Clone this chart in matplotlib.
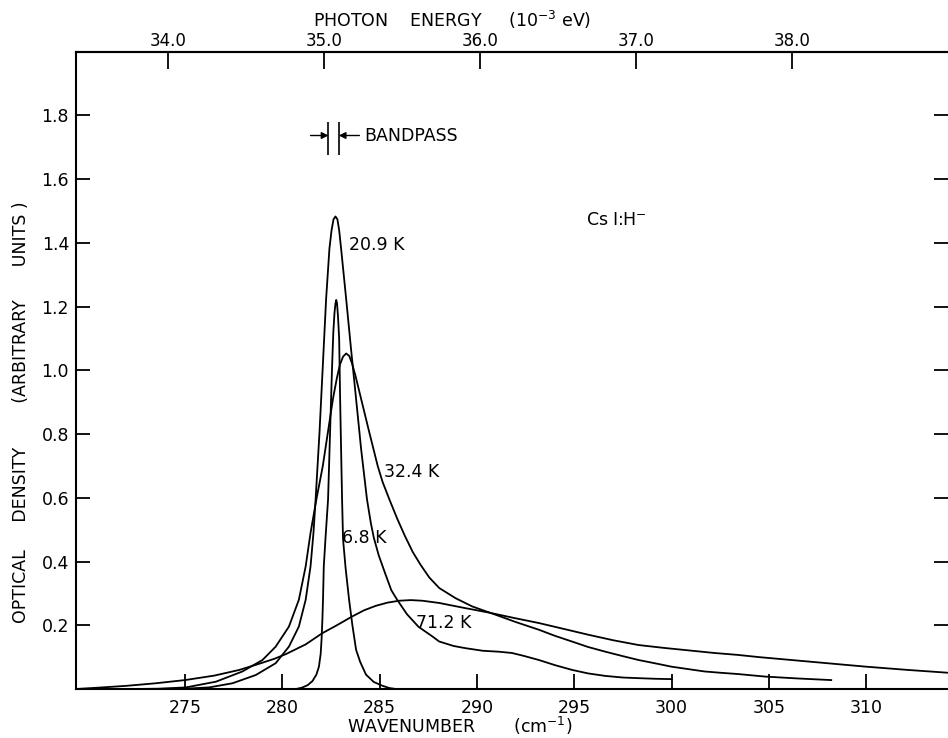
import matplotlib
matplotlib.use('Agg')
import matplotlib.pyplot as plt

# CsI:H- local mode absorption at several temperatures
wn_6_8 = [280.7, 281.0, 281.3, 281.55, 281.75, 281.88, 281.97, 282.02, 282.06, 282.09,
          282.13, 282.22, 282.35, 282.45, 282.55, 282.62, 282.68, 282.73, 282.77, 282.81,
          282.86, 282.92, 282.97, 283.02, 283.07, 283.12, 283.25, 283.43, 283.6, 283.79,
          284.0, 284.3, 284.7, 285.15, 285.5, 285.84]
od_6_8 = [0.0, 0.004, 0.012, 0.025, 0.045, 0.07, 0.11, 0.16, 0.22, 0.28,
          0.385, 0.475, 0.595, 0.8, 1.0, 1.12, 1.18, 1.21, 1.221, 1.21,
          1.17, 1.1, 0.91, 0.75, 0.595, 0.47, 0.38, 0.28, 0.2, 0.123,
          0.085, 0.045, 0.022, 0.01, 0.003, 0.0]

wn_20_9 = [273.0, 275.0, 276.24, 277.44, 278.64, 279.66, 280.34, 280.85, 281.2, 281.45,
           281.6, 281.71, 281.91, 282.08, 282.25, 282.42, 282.53, 282.63, 282.73, 282.83,
           282.92, 283.02, 283.28, 283.53, 283.79, 284.05, 284.35, 284.55, 284.7, 284.95,
           285.3, 285.6, 285.9, 286.4, 287.0, 287.71, 288.06, 288.8, 289.42, 290.3,
           291.13, 291.8, 292.4, 293.18, 294.0, 294.88, 295.7, 296.6, 297.5, 298.3,
           299.2, 300.0]
od_20_9 = [0.0, 0.001, 0.005, 0.018, 0.044, 0.081, 0.133, 0.196, 0.28, 0.385,
           0.49, 0.595, 0.805, 1.014, 1.224, 1.382, 1.44, 1.474, 1.483, 1.474,
           1.44, 1.382, 1.224, 1.067, 0.91, 0.752, 0.595, 0.52, 0.475, 0.42,
           0.36, 0.31, 0.28, 0.235, 0.195, 0.165, 0.149, 0.135, 0.128, 0.12,
           0.117, 0.113, 0.104, 0.091, 0.075, 0.06, 0.049, 0.041, 0.036, 0.034,
           0.032, 0.031]

wn_32_4 = [272.5, 273.7, 275.05, 276.59, 277.95, 278.98, 279.66, 280.34, 280.85, 281.2,
           281.45, 281.75, 282.08, 282.34, 282.6, 282.8, 282.96, 283.12, 283.28, 283.44,
           283.58, 283.75, 284.05, 284.47, 284.9, 285.15, 285.5, 285.9, 286.3, 286.7,
           287.1, 287.55, 288.06, 288.9, 289.76, 290.96, 292.0, 293.18, 294.0, 294.88,
           295.7, 296.6, 297.5, 298.3, 299.2, 300.0, 300.9, 301.7, 302.5, 303.4,
           304.8, 306.5, 308.2]
od_32_4 = [0.0, 0.001, 0.005, 0.023, 0.055, 0.091, 0.133, 0.196, 0.28, 0.385,
           0.49, 0.595, 0.7, 0.805, 0.91, 0.975, 1.018, 1.043, 1.053, 1.045,
           1.022, 0.985, 0.91, 0.805, 0.7, 0.65, 0.595, 0.535, 0.48, 0.43,
           0.39, 0.35, 0.317, 0.285, 0.259, 0.233, 0.21, 0.186, 0.167, 0.149,
           0.132, 0.117, 0.103, 0.091, 0.08, 0.07, 0.062, 0.055, 0.051, 0.047,
           0.039, 0.033, 0.028]

wn_71_2 = [269.4, 270.5, 272.0, 273.5, 275.0, 276.5, 277.8, 278.8, 279.6, 280.2,
           281.2, 282.05, 282.8, 283.6, 284.2, 284.8, 285.4, 286.0, 286.6, 287.2,
           288.06, 289.3, 290.6, 291.9, 293.18, 294.5, 295.74, 297.0, 298.3, 299.6,
           300.9, 302.2, 303.4, 304.5, 305.6, 307.8, 310.0, 312.1, 314.2]
od_71_2 = [0.0, 0.004, 0.01, 0.018, 0.028, 0.042, 0.06, 0.079, 0.095, 0.11,
           0.14, 0.175, 0.2, 0.228, 0.247, 0.261, 0.271, 0.277, 0.279, 0.277,
           0.27, 0.255, 0.24, 0.223, 0.207, 0.188, 0.17, 0.153, 0.138, 0.129,
           0.121, 0.113, 0.107, 0.1, 0.094, 0.082, 0.07, 0.06, 0.051]

curve_labels = ['6.8 K', '20.9 K', '32.4 K', '71.2 K']
label_pos = [(283.09, 0.475), (283.45, 1.394), (285.24, 0.68), (286.88, 0.208)]

x_ticks = [275, 280, 285, 290, 295, 300, 305, 310]
y_ticks = [0.2, 0.4, 0.6, 0.8, 1.0, 1.2, 1.4, 1.6, 1.8]
energy_ticks = [34.0, 35.0, 36.0, 37.0, 38.0]
bandpass = [282.37, 282.9]

fs = 12.5
fig = plt.figure(figsize=(9.48, 7.38), dpi=100)
ax = fig.add_axes([76 / 948, 1 - 689 / 738, 872 / 948, (689 - 51.7) / 738])

for wn, od in [(wn_6_8, od_6_8), (wn_20_9, od_20_9), (wn_32_4, od_32_4), (wn_71_2, od_71_2)]:
    ax.plot(wn, od, color='black', lw=1.3)

for lab, (x, y) in zip(curve_labels, label_pos):
    ax.text(x, y, lab, fontsize=fs, ha='left', va='center')

ax.text(295.58, 1.473, 'Cs I:H$^{-}$', fontsize=fs, ha='left', va='center')

# bandpass marker
ax.vlines(bandpass, 1.675, 1.78, color='black', lw=1.2)
arrow = dict(arrowstyle='-|>', color='black', lw=1.0, mutation_scale=10, shrinkA=0, shrinkB=0)
ax.annotate('', xy=(bandpass[0], 1.737), xytext=(281.45, 1.737), arrowprops=arrow)
ax.annotate('', xy=(bandpass[1], 1.737), xytext=(283.96, 1.737), arrowprops=arrow)
ax.text(284.22, 1.737, 'BANDPASS', fontsize=fs, ha='left', va='center')

ax.set_xlim(269.4, 314.2)
ax.set_ylim(0, 2.0)
ax.set_xticks(x_ticks)
ax.set_yticks(y_ticks)
ax.set_yticklabels([f'{v:.1f}' for v in y_ticks])
ax.tick_params(axis='x', direction='in', length=11, width=1.3, labelsize=fs, pad=7, top=False)
ax.tick_params(axis='y', direction='in', length=10, width=1.3, labelsize=fs, pad=5, right=True)
ax.spines['right'].set_visible(False)
for s in ['left', 'top', 'bottom']:
    ax.spines[s].set_linewidth(1.5)


def wn_to_mev(w):
    return 34.0 + (w - 274.11) / 8.02


def mev_to_wn(e):
    return 274.11 + (e - 34.0) * 8.02


top = ax.secondary_xaxis('top', functions=(wn_to_mev, mev_to_wn))
top.set_xticks(energy_ticks)
top.set_xticklabels([f'{v:.1f}' for v in energy_ticks])
top.tick_params(direction='in', length=12, width=1.3, labelsize=fs - 0.5, pad=1)
top.spines['top'].set_linewidth(1.5)

fig.text(452 / 948, 1 - 20 / 738, 'PHOTON    ENERGY     (10$^{-3}$ eV)', fontsize=fs,
         ha='center', va='center')
fig.text(460 / 948, 1 - 726 / 738, 'WAVENUMBER       (cm$^{-1}$)', fontsize=fs,
         ha='center', va='center')
fig.text(21 / 948, 1 - 412 / 738,
         'OPTICAL     DENSITY        (ARBITRARY      UNITS )', fontsize=fs,
         ha='center', va='center', rotation=90)

fig.savefig('out.png', dpi=100)
